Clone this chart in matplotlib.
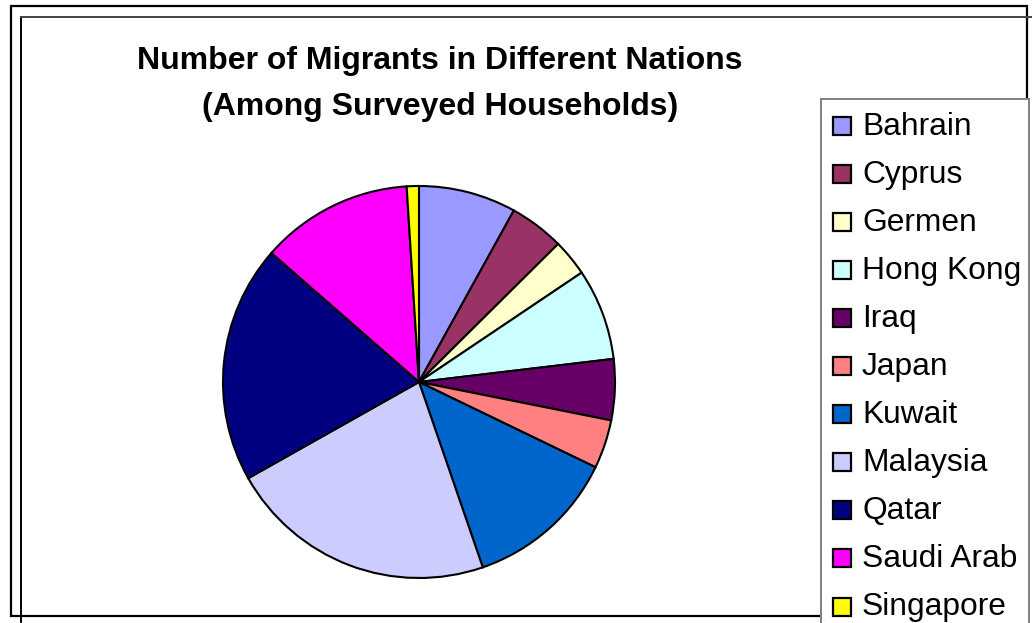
import matplotlib
matplotlib.use('Agg')
import matplotlib.pyplot as plt
from matplotlib.lines import Line2D
from matplotlib.patches import Rectangle

plt.rcParams['font.family'] = ['Liberation Sans', 'DejaVu Sans']

# Migrants per destination country
countries = ['Bahrain', 'Cyprus', 'Germen', 'Hong Kong', 'Iraq', 'Japan',
             'Kuwait', 'Malaysia', 'Qatar', 'Saudi Arab', 'Singapore']
migrants = [16, 9, 6, 15, 10, 8, 25, 44, 39, 25, 2]
colors = ['#9999FF', '#993366', '#FFFFCC', '#CCFFFF', '#660066', '#FF8080',
          '#0066CC', '#CCCCFF', '#000080', '#FF00FF', '#FFFF00']

title_lines = ['Number of Migrants in Different Nations',
               '(Among Surveyed Households)']

W, H = 1032, 623
fig = plt.figure(figsize=(W / 100, H / 100), dpi=100)
fig.patch.set_facecolor('white')


def fx(x):
    return x / W


def fy(y):
    return 1 - y / H


def hline(x0, x1, y, **kw):
    fig.add_artist(Line2D([fx(x0), fx(x1)], [fy(y), fy(y)],
                          transform=fig.transFigure, **kw))


def vline(x, y0, y1, **kw):
    fig.add_artist(Line2D([fx(x), fx(x)], [fy(y0), fy(y1)],
                          transform=fig.transFigure, **kw))


# chart area border
fig.add_artist(Rectangle((fx(11), fy(616)), fx(1027) - fx(11), fy(6) - fy(616),
                         transform=fig.transFigure, fill=False,
                         edgecolor='black', linewidth=1.6, zorder=1))
vline(21, 17, 623, color='black', linewidth=1.4, zorder=1)
hline(21, 1032, 17, color='#444444', linewidth=1.4, zorder=1)

# pie
cx, cy, r = 419, 382, 196
ax = fig.add_axes([fx(cx - r), fy(cy + r), 2 * r / W, 2 * r / H])
ax.pie(migrants, colors=colors, startangle=90, counterclock=False,
       wedgeprops={'edgecolor': 'black', 'linewidth': 1.5})
ax.set_xlim(-1, 1)
ax.set_ylim(-1, 1)
ax.set_aspect('equal')
ax.axis('off')

for i, line in enumerate(title_lines):
    fig.text(fx(440), fy(61 + i * 46), line, ha='center', va='center',
             fontsize=23, fontweight='bold')

# legend box
fig.add_artist(Rectangle((fx(821), fy(640)), fx(1029) - fx(821), fy(99) - fy(640),
                         transform=fig.transFigure, facecolor='white',
                         edgecolor='#808080', linewidth=1.4, zorder=3))
row0, step = 126, 48.05
for i, (name, c) in enumerate(zip(countries, colors)):
    yc = row0 + i * step
    fig.add_artist(Rectangle((fx(833), fy(yc + 9)), fx(851) - fx(833),
                             fy(yc - 9) - fy(yc + 9),
                             transform=fig.transFigure, facecolor=c,
                             edgecolor='black', linewidth=1.6, zorder=4))
    fig.text(fx(862), fy(yc + 1), name, ha='left', va='center',
             fontsize=22.9, zorder=5)

fig.savefig('out.png', dpi=100)
